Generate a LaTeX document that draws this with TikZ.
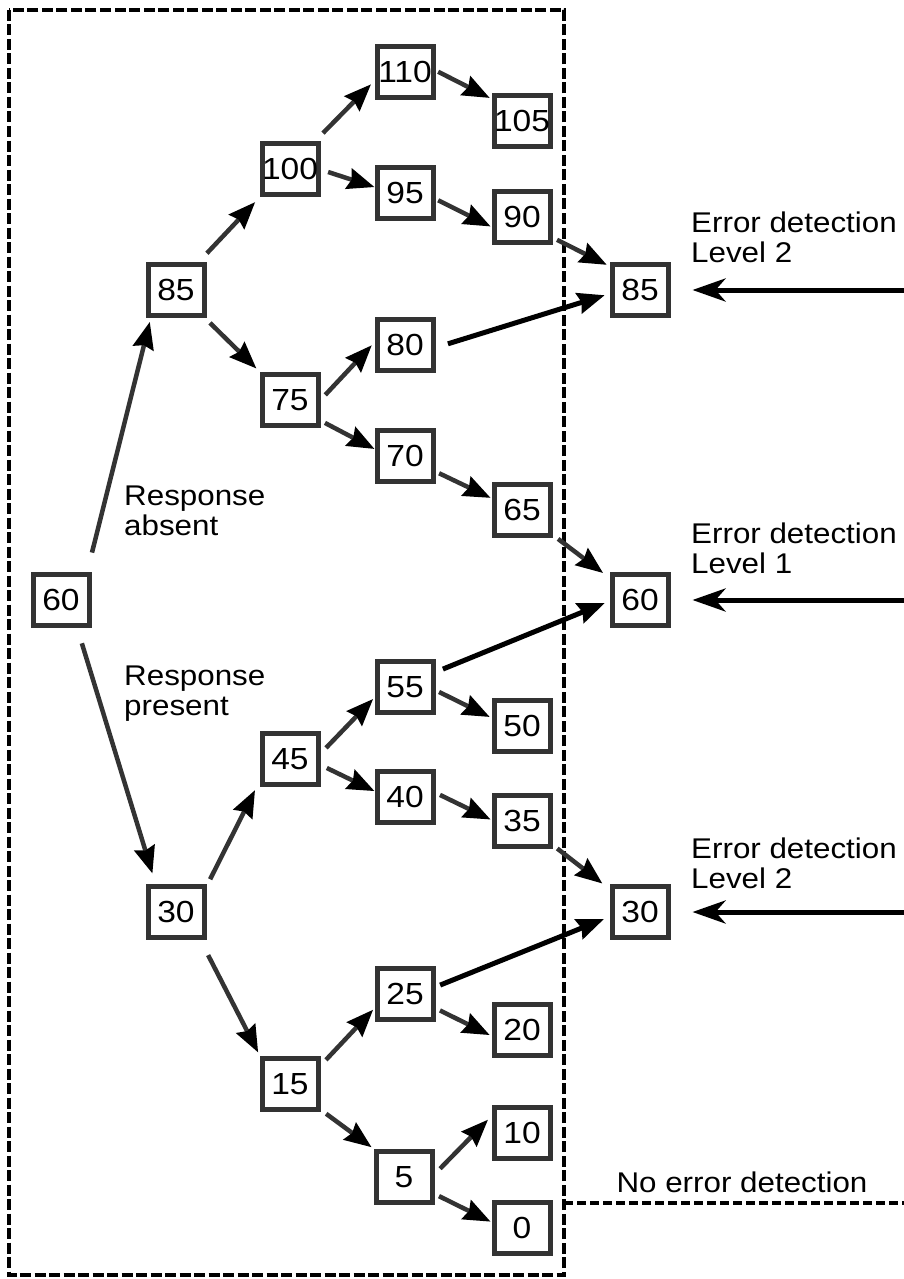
\documentclass[tikz,border=0pt]{standalone}
\usepackage{fontspec}
\setmainfont{Liberation Sans}[FakeStretch=1.1]
\usetikzlibrary{arrows.meta}

\begin{document}
\begin{tikzpicture}[x=1pt, y=-1pt, font=\fontsize{28.5}{30}\selectfont]

        % Styles
        \tikzstyle{numbox} = [draw=black!80, line width=5pt, fill=white, minimum width=56pt, minimum height=51pt, inner sep=0pt, font=\fontsize{30.5}{30}\selectfont]
        \tikzstyle{link} = [draw=black!80, line width=4.5pt, -{Stealth[length=27pt, width=21pt, inset=3pt, color=black]}]
        \tikzstyle{jump} = [link, draw=black, line width=5pt]
        \tikzstyle{feed} = [draw=black, line width=5pt, -{Stealth[length=33pt, width=23pt, inset=10pt]}, shorten >=22pt]
        \tikzstyle{frame} = [draw=black, line width=4.5pt, dash pattern=on 11pt off 3.5pt]
        \tikzstyle{note} = [inner sep=0pt, align=left]

        \useasboundingbox (0,0) rectangle (904,1279);

        % Test window (dashed)
        \draw[frame] (9,10) rectangle (564,1275);

        % Tree of values
        \node[numbox] (n60) at (61,600) {60};
        \node[numbox] (n85) at (176,290) {85};
        \node[numbox] (n30) at (176,912) {30};
        \node[numbox] (n100) at (290,169) {100};
        \node[numbox] (n75) at (290,400) {75};
        \node[numbox] (n45) at (290,759) {45};
        \node[numbox] (n15) at (290,1084) {15};
        \node[numbox] (n110) at (405,72) {110};
        \node[numbox] (n95) at (405,193) {95};
        \node[numbox] (n80) at (405,345) {80};
        \node[numbox] (n70) at (405,456) {70};
        \node[numbox] (n55) at (405,687) {55};
        \node[numbox] (n40) at (405,797) {40};
        \node[numbox] (n25) at (405,994) {25};
        \node[numbox] (n5) at (404,1177) {5};
        \node[numbox] (n105) at (522,121) {105};
        \node[numbox] (n90) at (522,217) {90};
        \node[numbox] (n65) at (522,510) {65};
        \node[numbox] (n50) at (522,726) {50};
        \node[numbox] (n35) at (522,821) {35};
        \node[numbox] (n20) at (522,1030) {20};
        \node[numbox] (n10) at (522,1133) {10};
        \node[numbox] (n0) at (522,1228) {0};

        % Detection outcomes
        \node[numbox] (r85) at (640,290) {85};
        \node[numbox] (r60) at (640,600) {60};
        \node[numbox] (r30) at (640,912) {30};

        % Branches
        \draw[link, shorten <=20pt, shorten >=4pt] (n60.47) -- (n85.-132);
        \draw[link, shorten <=16pt, shorten >=11pt] (n60.-60) -- (n30.126);
        \draw[link, shorten <=12pt, shorten >=7pt] (n85.51) -- (n100.-137);
        \draw[link, shorten <=7pt, shorten >=5pt] (n85.-44) -- (n75.137);
        \draw[link, shorten <=11pt, shorten >=5pt] (n100.48) -- (n110.196);
        \draw[link, shorten <=3pt, shorten >=2pt] (n110.3) -- (n105.144);
        \draw[link, shorten <=8pt] (n100.-1) -- (n95.169);
        \draw[link, shorten <=3pt, shorten >=1pt] (n95.-11) -- (n90.-162);
        \draw[link, shorten <=5pt, shorten >=3pt] (n90.-34) -- (r85.142);
        \draw[jump, shorten <=13pt, shorten >=5pt] (n80.-5) -- (r85.187);
        \draw[link, shorten <=7pt, shorten >=4pt] (n75.0) -- (n80.175);
        \draw[link, shorten <=5pt] (n75.-34) -- (n70.167);
        \draw[link, shorten <=4pt, shorten >=1pt] (n70.-27) -- (n65.159);
        \draw[link, shorten <=7pt, shorten >=8pt] (n65.-39) -- (r60.144);
        \draw[jump, shorten <=8pt, shorten >=5pt] (n55.26) -- (r60.182);
        \draw[link, shorten <=8pt, shorten >=2pt] (n45.10) -- (n55.199);
        \draw[link, shorten <=4pt, shorten >=2pt] (n55.-6) -- (n50.165);
        \draw[link, shorten <=7pt] (n45.-11) -- (n40.169);
        \draw[link, shorten <=5pt, shorten >=1pt] (n40.8) -- (n35.178);
        \draw[link, shorten <=6pt, shorten >=9pt] (n35.-38) -- (r30.143);
        \draw[link, shorten <=8pt, shorten >=10pt] (n30.40) -- (n45.216);
        \draw[link, shorten <=17pt, shorten >=4pt] (n30.-49) -- (n15.137);
        \draw[link, shorten <=8pt, shorten >=2pt] (n15.31) -- (n25.205);
        \draw[link, shorten <=5pt, shorten >=2pt] (n25.-25) -- (n20.191);
        \draw[jump, shorten <=5pt, shorten >=6pt] (n25.13) -- (r30.189);
        \draw[link, shorten <=7pt, shorten >=3pt] (n15.-40) -- (n5.137);
        \draw[link, shorten <=8pt, shorten >=5pt] (n5.5) -- (n10.151);
        \draw[link, shorten <=5pt, shorten >=1pt] (n5.-29) -- (n0.169);

        % Branch labels
        \node[note, anchor=base west] (absent) at (124,535) {Response\\absent};
        \node[note, anchor=base west] (present) at (124,715) {Response\\present};

        % Error detection inputs
        \coordinate (in85) at (904,290);
        \coordinate (in60) at (904,600);
        \coordinate (in30) at (904,912);
        \draw[feed] (in85) -- (r85.east);
        \draw[feed] (in60) -- (r60.east);
        \draw[feed] (in30) -- (r30.east);
        \node[note, anchor=base west] (lvl2a) at (691,262) {Error detection\\Level 2};
        \node[note, anchor=base west] (lvl1) at (691,573) {Error detection\\Level 1};
        \node[note, anchor=base west] (lvl2b) at (691,888) {Error detection\\Level 2};

        % No detection
        \coordinate (tapL) at (564,1203);
        \coordinate (tapR) at (904,1203);
        \draw[draw=black, line width=3.5pt, dash pattern=on 9pt off 4pt] (tapL) -- (tapR);
        \node[note, anchor=base] (noerr) at (742,1192) {No error detection};

    \end{tikzpicture}
\end{document}
